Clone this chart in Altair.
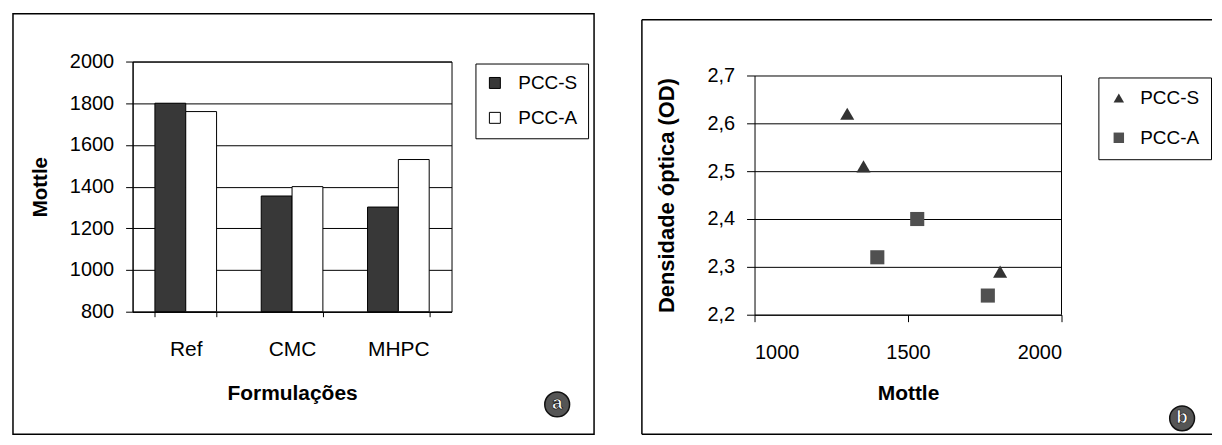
import altair as alt
import pandas as pd

# ---------------- data ----------------
categories = ["Ref", "CMC", "MHPC"]
series = ["PCC-S", "PCC-A"]
mottle_pcc_s = [1800, 1355, 1302]
mottle_pcc_a = [1760, 1400, 1530]
od_pcc_s = [2.29, 2.51, 2.62]
od_pcc_a = [2.24, 2.32, 2.40]
mottle_ticks = [800, 1000, 1200, 1400, 1600, 1800, 2000]
od_ticks = [2.2, 2.3, 2.4, 2.5, 2.6, 2.7]
scatter_x_ticks = [1000, 1500, 2000]
panel_letters = ["a", "b"]

FONT = "Liberation Sans"

rows = []
for i, c in enumerate(categories):
    rows.append({"form": c, "serie": series[0], "mottle": mottle_pcc_s[i], "od": od_pcc_s[i]})
    rows.append({"form": c, "serie": series[1], "mottle": mottle_pcc_a[i], "od": od_pcc_a[i]})
df = pd.DataFrame(rows)
one = pd.DataFrame({"k": [0]})

W1, H1 = 320, 251
W2, H2 = 308, 254          # panel b plot group (data range occupies 14..254)
B_TOP = 14


def frame_rect(x, x2, y, y2):
    return alt.Chart(one).mark_rect(filled=False, stroke="black", strokeWidth=1.5).encode(
        x=alt.value(x), x2=alt.value(x2), y=alt.value(y), y2=alt.value(y2))


def hrule(x, x2, y):
    return alt.Chart(one).mark_rule(stroke="black", strokeWidth=1.5).encode(
        x=alt.value(x), x2=alt.value(x2), y=alt.value(y))


def vrule(x, y, y2):
    return alt.Chart(one).mark_rule(stroke="black", strokeWidth=1.5).encode(
        x=alt.value(x), y=alt.value(y), y2=alt.value(y2))


def badge(letter, x, y):
    c = alt.Chart(pd.DataFrame({"t": [letter]})).mark_point(
        shape="circle", filled=True, fill="#555555", stroke="#111", strokeWidth=1.5, size=620, opacity=1
    ).encode(x=alt.value(x), y=alt.value(y))
    t = alt.Chart(pd.DataFrame({"t": [letter]})).mark_text(
        font=FONT, fontSize=19, fontWeight="bold", color="white", stroke="black", strokeWidth=0.6,
        baseline="middle", align="center", dy=-1
    ).encode(x=alt.value(x), y=alt.value(y), text="t:N")
    return c + t


# ---------------- panel a: bars ----------------
leg_a = alt.Legend(
    title=None, orient="none", legendX=344, legendY=2, symbolType="square", symbolSize=121,
    symbolStrokeColor="black", symbolStrokeWidth=1, labelFontSize=19, labelFont=FONT,
    labelColor="black", padding=10, rowPadding=15, strokeColor="black", fillColor="white",
    labelOffset=14,
)

bars = alt.Chart(df).mark_bar(stroke="black", strokeWidth=1).encode(
    x=alt.X(
        "form:N", sort=categories,
        scale=alt.Scale(paddingInner=0.42, paddingOuter=0.21),
        axis=alt.Axis(
            title="Formulações", labelAngle=0, tickBand="extent", tickSize=5, labelPadding=22,
            titlePadding=23, labelFontSize=21, titleFontSize=21, titleFontWeight="bold", grid=False,
        ),
    ),
    xOffset=alt.XOffset("serie:N", sort=series, scale=alt.Scale(paddingInner=0, paddingOuter=0)),
    y=alt.Y(
        "mottle:Q",
        scale=alt.Scale(domain=[800, 2000], nice=False, zero=False),
        axis=alt.Axis(
            values=mottle_ticks, format="d", title="Mottle", tickSize=7, labelPadding=12,
            labelFontSize=20, titleFontSize=20.5, titleFontWeight="bold", titlePadding=19, grid=True,
        ),
    ),
    y2=alt.datum(800),
    fill=alt.Fill("serie:N", sort=series,
                  scale=alt.Scale(domain=series, range=["#383838", "#ffffff"]), legend=leg_a),
)

left = alt.layer(
    bars,
    frame_rect(-120, 463, -48, 374),
    badge(panel_letters[0], 426, 344),
).properties(width=W1, height=H1)

# ---------------- panel b: scatter ----------------
leg_b = alt.Legend(
    title=None, orient="none", legendX=345, legendY=16, symbolSize=110, symbolStrokeWidth=0,
    labelFontSize=19, labelFont=FONT, labelColor="black", padding=11, rowPadding=20,
    strokeColor="black", fillColor="white", labelOffset=12,
)

y_od = alt.Y(
    "od:Q",
    scale=alt.Scale(domain=[2.2, 2.7], nice=False, zero=False, range=[H2, B_TOP]),
    axis=alt.Axis(
        values=od_ticks, labelExpr="replace(format(datum.value, '.1f'), '.', ',')",
        title="Densidade óptica (OD)", tickSize=8, labelPadding=12, labelFontSize=20,
        titleFontSize=22, titleFontWeight="bold", titlePadding=28, grid=True,
    ),
)

pts = alt.Chart(df).mark_point(filled=True, opacity=1, size=200).encode(
    x=alt.X(
        "mottle:Q",
        scale=alt.Scale(domain=[1000, 2000], nice=False, zero=False),
        axis=alt.Axis(
            values=scatter_x_ticks, format="d", title="Mottle", grid=False, tickSize=7,
            labelPadding=21, titlePadding=20, labelFontSize=20, titleFontSize=21,
            titleFontWeight="bold",
        ),
    ),
    y=y_od,
    shape=alt.Shape("serie:N", sort=series,
                    scale=alt.Scale(domain=series, range=["triangle-up", "square"]), legend=leg_b),
    color=alt.Color("serie:N", sort=series,
                    scale=alt.Scale(domain=series, range=["#333333", "#505050"]), legend=leg_b),
)

# right border of the plot area, from 2.7 down to 2.2
right_border = alt.Chart(one).mark_rule(stroke="black", strokeWidth=1).encode(
    x=alt.value(W2), y=alt.datum(od_ticks[-1]), y2=alt.datum(od_ticks[0])
)

right = alt.layer(
    pts,
    right_border,
    vrule(-113, -42, 374),
    hrule(-113, 459, -42),
    hrule(-113, 459, 374),
    badge(panel_letters[1], 429, 358),
).properties(width=W2, height=H2, view=alt.ViewBackground(stroke="transparent"))

chart = alt.hconcat(left, right, spacing=44).resolve_scale(
    fill="independent", color="independent", shape="independent"
).resolve_legend(
    fill="independent", color="independent", shape="independent"
).properties(
    padding={"left": 3, "top": 3, "right": 0, "bottom": 0}
).configure_view(
    stroke="black", strokeWidth=1
).configure_axis(
    domainColor="black", tickColor="black", labelColor="black", titleColor="black",
    labelFont=FONT, titleFont=FONT, gridColor="black", gridOpacity=1, gridWidth=1,
    domainWidth=1, tickWidth=1,
).configure_legend(
    labelFont=FONT
)

chart.save("out.html", embed_options={"renderer": "svg", "actions": False})
